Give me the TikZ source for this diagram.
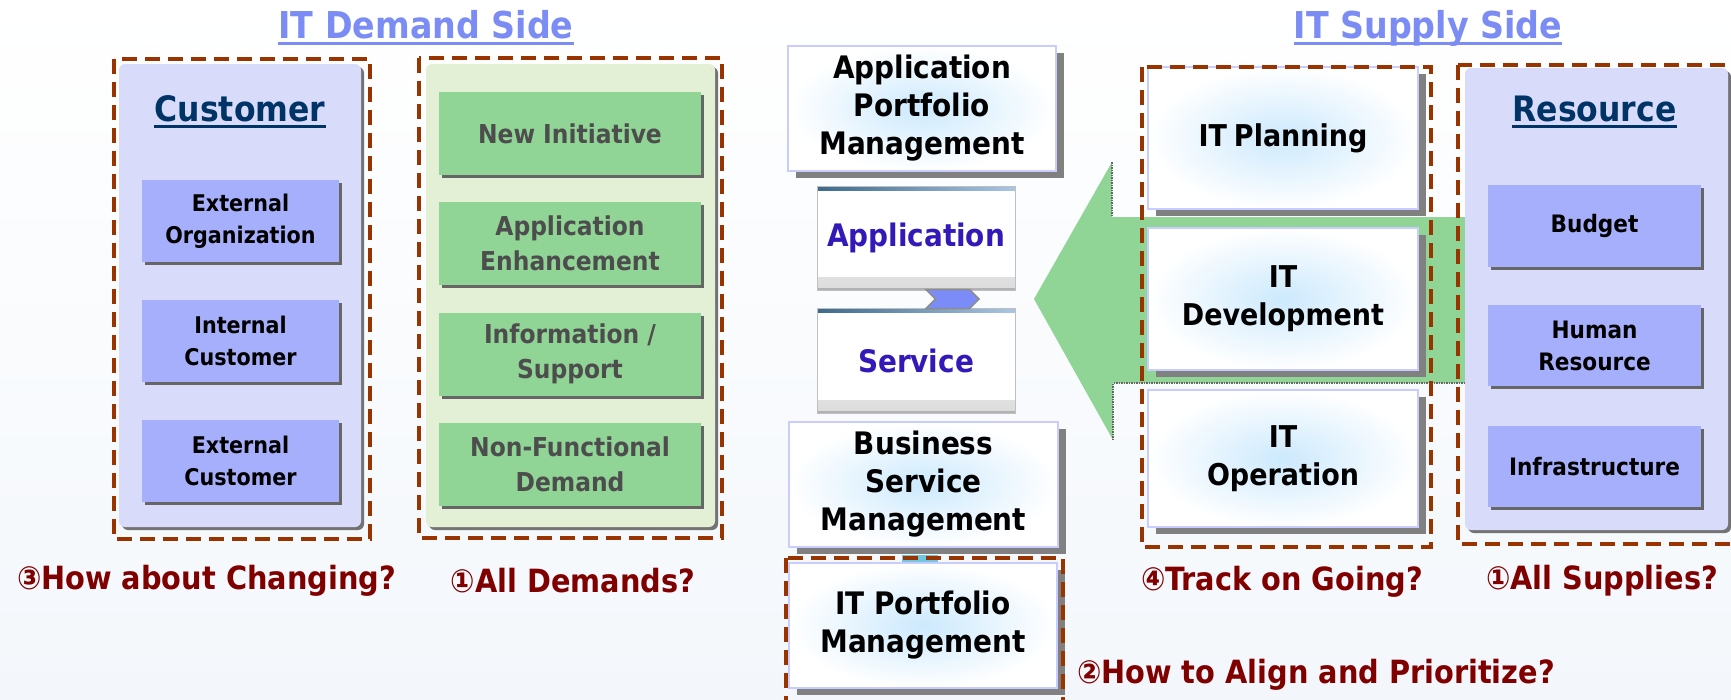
\documentclass[tikz,border=0pt]{standalone}
\usepackage{fontspec}
\setmainfont{DejaVu Sans Condensed}[BoldFont={DejaVu Sans Condensed Bold}]
\usepackage{tikz}
\usetikzlibrary{calc,shadows,shapes.symbols}
\definecolor{dashred}{RGB}{153,51,0}
\definecolor{custpanel}{RGB}{216,220,250}
\definecolor{custblue}{RGB}{166,175,251}
\definecolor{navy}{RGB}{0,51,102}
\definecolor{grnpanel}{RGB}{227,240,213}
\definecolor{demgreen}{RGB}{144,212,150}
\definecolor{demgray}{RGB}{77,77,77}
\definecolor{lav}{RGB}{200,204,255}
\definecolor{glow}{RGB}{204,233,253}
\definecolor{winblue}{RGB}{51,25,184}
\definecolor{barA}{RGB}{61,106,140}
\definecolor{barB}{RGB}{170,198,226}
\definecolor{chevblue}{RGB}{123,140,248}
\definecolor{titleblue}{RGB}{123,140,245}
\definecolor{qred}{RGB}{128,0,0}
\definecolor{cyanbit}{RGB}{110,200,225}
\definecolor{bgblue}{RGB}{243,247,251}

\begin{document}
\begin{tikzpicture}[x=1pt,y=-1pt,
  dashbox/.style={draw=dashred,line width=4pt,dash pattern=on 15pt off 8pt},
  panel/.style={rounded corners=6pt,drop shadow={shadow xshift=3pt,shadow yshift=-3pt,fill=black!55,opacity=1}},
  custbox/.style={fill=custblue,minimum width=197pt,minimum height=82pt,align=center,inner sep=0pt,
    font=\fontsize{23}{32}\selectfont\bfseries,drop shadow={shadow xshift=3pt,shadow yshift=-3pt,fill=black!60,opacity=1}},
  demandbox/.style={custbox,fill=demgreen,text=demgray,minimum width=262pt,minimum height=83pt,
    font=\fontsize{26}{35}\selectfont\bfseries},
  resbox/.style={custbox,minimum width=213pt,font=\fontsize{24}{32}\selectfont\bfseries},
  mgmtbox/.style={draw=lav,line width=1.8pt,inner color=glow,outer color=white,minimum width=268pt,minimum height=125pt,
    align=center,inner sep=0pt,font=\fontsize{31}{38}\selectfont\bfseries,
    drop shadow={shadow xshift=8pt,shadow yshift=-7pt,fill=black!50,opacity=1}},
  supbox/.style={mgmtbox,minimum width=270pt,minimum height=142pt,font=\fontsize{30}{38}\selectfont\bfseries},
  winbox/.style={draw=black!25,line width=0.8pt,fill=white,
    minimum width=198pt,minimum height=104pt,text=winblue,font=\fontsize{31}{38}\selectfont\bfseries,
    path picture={
      \shade[top color=white,bottom color=black!14] ($(path picture bounding box.south west)+(0,-13)$) rectangle (path picture bounding box.south east);
      \shade[left color=barA,right color=barB] (path picture bounding box.north west) rectangle ($(path picture bounding box.north east)+(0,4)$);
      \fill[black!30] (path picture bounding box.south west) rectangle ($(path picture bounding box.south east)+(0,-2.5)$);}},
  question/.style={text=qred,font=\fontsize{32}{38}\selectfont\bfseries},
  sidetitle/.style={text=titleblue,inner sep=0pt,font=\fontsize{37}{44}\selectfont\bfseries},
  paneltitle/.style={text=navy,inner sep=0pt,font=\fontsize{35}{42}\selectfont\bfseries}]
\useasboundingbox (0,0) rectangle (1731,699);
\fill[top color=white,bottom color=bgblue] (0,0) rectangle (1731,699);

\fill[demgreen] (1034,299) -- (1112,162) -- (1112,217) -- (1465,217) -- (1465,383) -- (1113,383) -- (1113,440) -- cycle;
\draw[black!60,line width=1.5pt,densely dotted] (1112,162) -- (1112,217);
\draw[black!60,line width=1.5pt,densely dotted] (1113,440) -- (1113,383) -- (1465,383);

\fill[custpanel,panel] (119,64) rectangle (361,527);
\fill[grnpanel,panel] (426,64) rectangle (715,527);
\fill[custpanel,panel] (1465,68) rectangle (1728,530);

\node[paneltitle,anchor=base] (ctitle) at (240,121) {Customer};
\draw[navy,line width=3pt] ($(ctitle.base west)+(0,5)$) -- ($(ctitle.base east)+(0,5)$);
\node[custbox] (c1) at (240.5,221) {External\\Organization};
\node[custbox] (c2) at (240.5,341) {Internal\\Customer};
\node[custbox] (c3) at (240.5,461) {External\\Customer};

\node[demandbox] (g1) at (570,133.5) {New Initiative};
\node[demandbox] (g2) at (570,243.5) {Application\\Enhancement};
\node[demandbox] (g3) at (570,354) {Information /\\Support};
\node[demandbox] (g4) at (570,464) {Non-Functional\\Demand};

\node[mgmtbox] (apm) at (922,108.5) {Application\\Portfolio\\Management};
\node[winbox] (w1) at (916,238) {Application};
\node[winbox,minimum height=105pt] (w2) at (916,360.5) {Service};
\node[signal,signal to=east,signal from=west,fill=chevblue,draw=black!45,line width=1.5pt,
  minimum width=53pt,minimum height=19pt,inner sep=0pt] (ch) at ($(w1.south)!0.5!(w2.north)+(36.5,0)$) {};
\node[mgmtbox,minimum width=269pt] (bsm) at (923.5,484.5) {Business\\Service\\Management};
\fill[cyanbit] (902,555) rectangle (938,562);
\node[mgmtbox] (itpm) at (923,625.5) {IT Portfolio\\Management};

\node[supbox] (p1) at (1283,138) {IT\hspace{7pt}Planning};
\node[supbox] (p2) at (1283,299) {IT\\Development};
\node[supbox,minimum height=137pt] (p3) at (1283,458.5) {IT\\Operation};

\node[paneltitle,anchor=base] (rtitle) at (1594.5,121) {Resource};
\draw[navy,line width=3pt] ($(rtitle.base west)+(0,5)$) -- ($(rtitle.base east)+(0,5)$);
\node[resbox] (r1) at (1594.5,226) {Budget};
\node[resbox,minimum height=81pt] (r2) at (1594.5,345.5) {Human\\Resource};
\node[resbox,minimum height=81pt] (r3) at (1594.5,466.5) {Infrastructure};

\draw[dashbox] (114,59) rectangle (370,539);
\draw[dashbox] (419,58) rectangle (722,538);
\draw[dashbox] (786,558) rectangle (1063,715);
\draw[dashbox] (1142,67) rectangle (1431,547);
\draw[dashbox] (1458,65) rectangle (1745,544);

\node[sidetitle,anchor=base] (dtitle) at (426,38) {IT Demand Side};
\draw[titleblue,line width=3pt] ($(dtitle.base west)+(0,5)$) -- ($(dtitle.base east)+(0,5)$);
\node[sidetitle,anchor=base] (stitle) at (1428,38) {IT Supply Side};
\draw[titleblue,line width=3pt] ($(stitle.base west)+(0,5)$) -- ($(stitle.base east)+(0,5)$);

\node[question] (q3) at (206.5,581) {③How about Changing?};
\node[question] (q1) at (573,581) {①All Demands?};
\node[question] (q4) at (1282,582) {④Track on Going?};
\node[question] (q5) at (1602,581) {①All Supplies?};
\node[question] (q2) at (1316,675) {②How to Align and Prioritize?};
\end{tikzpicture}
\end{document}
